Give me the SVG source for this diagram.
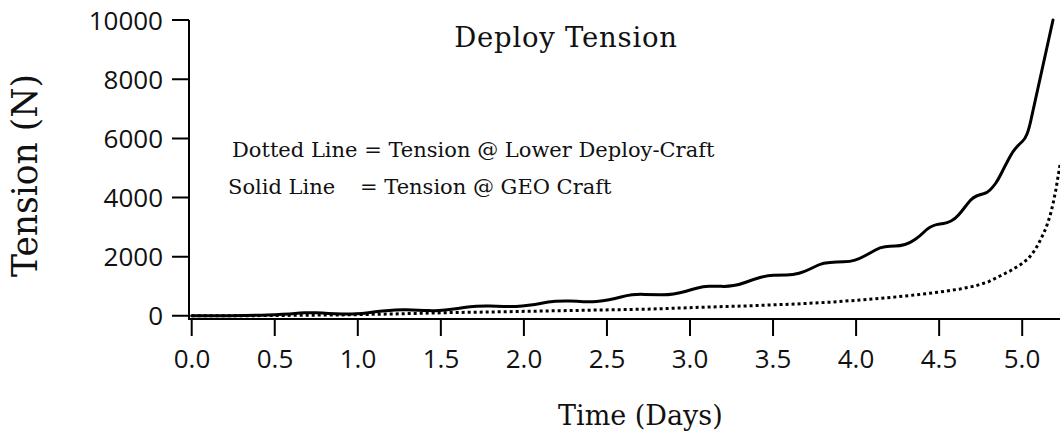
<svg xmlns="http://www.w3.org/2000/svg" width="1060" height="435" viewBox="0 0 1060 435">
<style>
.ax{stroke:#000;stroke-width:2;fill:none}
.tk{font-family:"Open Sans","DejaVu Sans",sans-serif;font-size:26px;fill:#111}
.sr{font-family:"DejaVu Serif",serif;fill:#111}
.solid{stroke:#000;stroke-width:3;fill:none;stroke-linejoin:round;stroke-linecap:round}
.dot{stroke:#000;stroke-width:3;fill:none;stroke-dasharray:3 3;stroke-linejoin:round}
</style>
<rect width="1060" height="435" fill="#fff"/>
<g id="axes">
<path class="ax" d="M189 20V320M189 319H1060"/>
<path class="ax" d="M172 20H189M172 79.2H189M172 138.4H189M172 197.6H189M172 256.8H189M172 315.7H189"/>
<path class="ax" d="M191.7 319V336M274.75 319V336M357.8 319V336M440.85 319V336M523.9 319V336M606.95 319V336M690 319V336M773.05 319V336M856.1 319V336M939.15 319V336M1022.2 319V336"/>
</g>
<g id="ytick-labels" class="tk" text-anchor="end">
<text x="163" y="29.5">10000</text>
<text x="163" y="88.7">8000</text>
<text x="163" y="147.9">6000</text>
<text x="163" y="207.1">4000</text>
<text x="163" y="266.3">2000</text>
<text x="163" y="325.2">0</text>
</g>
<g id="xtick-labels" class="tk" text-anchor="middle">
<text x="192" y="368">0.0</text>
<text x="275" y="368">0.5</text>
<text x="358" y="368">1.0</text>
<text x="441" y="368">1.5</text>
<text x="524" y="368">2.0</text>
<text x="607" y="368">2.5</text>
<text x="690" y="368">3.0</text>
<text x="773" y="368">3.5</text>
<text x="856" y="368">4.0</text>
<text x="939" y="368">4.5</text>
<text x="1022" y="368">5.0</text>
</g>
<g id="title"><text class="sr" x="566" y="47" font-size="27.5" letter-spacing="0.75" text-anchor="middle">Deploy Tension</text></g>
<g id="xlabel"><text class="sr" x="558" y="425" font-size="27">Time (Days)</text></g>
<g id="ylabel"><text class="sr" font-size="34.5" text-anchor="middle" transform="translate(37,175.5) rotate(-90)">Tension (N)</text></g>
<g id="legend" class="sr" font-size="21">
<text x="232" y="157">Dotted Line = Tension @ Lower Deploy-Craft</text>
<text x="228" y="193.5">Solid Line<tspan x="360">= Tension @ GEO Craft</tspan></text>
</g>
<g id="connectors">
<polyline id="dotted-curve" class="dot" points="191.7,315.7 250,315.7 300,315.3 350,314.8 400,313.8 450,312.6 500,311.8 550,310.9 600,310 650,309.1 700,307.3 750,305.8 800,303.8 833,302 860,300 887,297.8 915,295 940,292 960,289 975,286 988,282 1000,276 1010,271 1020,265 1028,259 1035,250 1041,239 1046,228 1050,216 1053,204 1056,189 1060,165"/>
<path id="solid-curve" class="solid" d="M191.7,315.7 L210.85,315.7 Q230,315.7 245,315.5 Q260,315.3 267.5,315.05 Q275,314.8 282.5,314.3 Q290,313.8 295,313.4 Q300,313 305,312.85 Q310,312.7 316,312.85 Q322,313 328.5,313.4 Q335,313.8 342.5,314 Q350,314.2 356,313.85 Q362,313.5 368.5,312.65 Q375,311.8 382.5,311 Q390,310.2 395,309.9 Q400,309.6 406,309.7 Q412,309.8 418.5,310.15 Q425,310.5 429,310.6 Q433,310.7 439,310.45 Q445,310.2 451.5,309.35 Q458,308.5 464,307.6 Q470,306.7 476.5,306.25 Q483,305.8 490,306 Q497,306.2 503.5,306.45 Q510,306.7 516,306.45 Q522,306.2 528.5,305.35 Q535,304.5 541.5,303.25 Q548,302 555.5,301.35 Q563,300.7 570,301 Q577,301.3 583.5,301.65 Q590,302 596.5,301.5 Q603,301 609,299.75 Q615,298.5 621,297 Q627,295.5 632,294.85 Q637,294.2 644.5,294.4 Q652,294.6 659.5,294.8 Q667,295 673.5,294 Q680,293 686,291.25 Q692,289.5 697.5,288 Q703,286.5 709,286.25 Q715,286 721,286.35 Q727,286.7 733.5,285.6 Q740,284.5 746.5,282 Q753,279.5 760,277.5 Q767,275.5 773.5,275.25 Q780,275 786.5,275 Q793,275 799,273.25 Q805,271.5 810,269 Q815,266.5 819,264.75 Q823,263 830,262.5 Q837,262 843.5,261.85 Q850,261.7 855,260.1 Q860,258.5 865,255.75 Q870,253 875,250.25 Q880,247.5 885,246.85 Q890,246.2 895,246.1 Q900,246 905,244.5 Q910,243 915,239.5 Q920,236 923.5,232.5 Q927,229 930,227.25 Q933,225.5 936.5,224.65 Q940,223.8 943.5,223.4 Q947,223 951,221 Q955,219 958.5,215 Q962,211 965,207 Q968,203 970.5,200.25 Q973,197.5 976.5,196 Q980,194.5 983.5,193.75 Q987,193 990,190 Q993,187 995.5,183.5 Q998,180 1001.5,173 Q1005,166 1009,158.5 Q1013,151 1016.5,147.25 Q1020,143.5 1022.5,141.25 Q1025,139 1027,134 Q1029,129 1031,119.7 L1053,20"/>
</g>
</svg>
